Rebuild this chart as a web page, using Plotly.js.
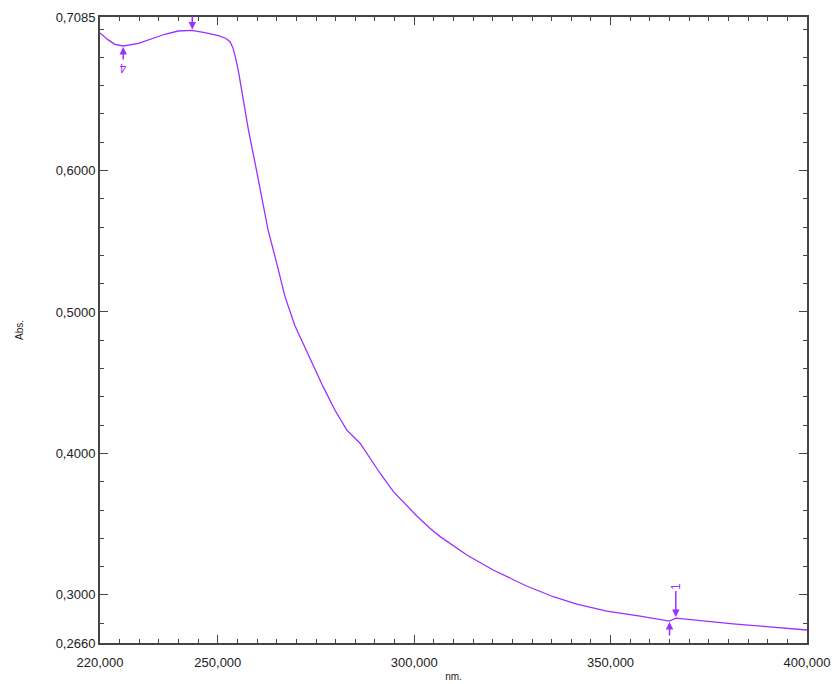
<!DOCTYPE html>
<html>
<head>
<meta charset="utf-8">
<script src="https://cdn.plot.ly/plotly-3.0.1.min.js"></script>
<style>html,body{margin:0;padding:0;background:#fff;}#chart{width:834px;height:684px;}</style>
</head>
<body>
<div id="chart"></div>
<script>
const wavelength = [220.0, 222.0, 223.8, 225.9, 229.8, 233.2, 236.5, 239.9, 243.3, 246.7, 250.1, 252.0, 253.1, 253.8, 254.4, 255.2, 256.5, 257.8, 259.5, 261.2, 262.8, 265.0, 267.1, 269.6, 273.5, 276.8, 279.8, 282.8, 286.2, 288.7, 291.3, 294.7, 298.9, 300.6, 304.0, 306.6, 313.4, 320.1, 328.6, 335.4, 341.4, 349.0, 357.5, 364.3, 365.0, 366.6, 373.6, 381.2, 389.7, 400.0];
const absorbance = [0.6972, 0.6925, 0.6892, 0.6880, 0.6899, 0.6930, 0.6963, 0.6986, 0.6990, 0.6974, 0.6953, 0.6935, 0.6910, 0.6870, 0.6810, 0.6710, 0.6498, 0.6286, 0.6051, 0.5815, 0.5579, 0.5344, 0.5108, 0.4905, 0.4667, 0.4472, 0.4307, 0.4166, 0.4072, 0.3966, 0.3860, 0.3730, 0.3608, 0.3560, 0.3471, 0.3412, 0.3282, 0.3176, 0.3063, 0.2987, 0.2934, 0.2886, 0.2850, 0.2822, 0.2815, 0.2836, 0.2815, 0.2795, 0.2776, 0.2752];

const xTickVals = [220, 250, 300, 350, 400];
const xTickText = ["220,000", "250,000", "300,000", "350,000", "400,000"];
const yTickVals = [0.266, 0.3, 0.4, 0.5, 0.6, 0.7085];
const yTickText = ["0,2660", "0,3000", "0,4000", "0,5000", "0,6000", "0,7085"];

// peak / valley picks
const pickX = [225.9, 243.5, 365.0, 366.6];
const pickY = [0.6880, 0.6990, 0.2815, 0.2836];
const pickLabel = ["4", "", "", "1"];
const pickType = ["valley", "peak", "valley", "peak"];

const lineColor = '#9b30ff';
const axisColor = '#444';
const font = {family: 'Liberation Sans, Arial, sans-serif', size: 13, color: '#222'};

const annotations = pickX.map((x, i) => {
  const isPeak = pickType[i] === 'peak';
  const hasLabel = pickLabel[i] !== '';
  return {
    x: x, y: pickY[i], xref: 'x', yref: 'y',
    text: hasLabel ? pickLabel[i] : '',
    textangle: pickLabel[i] === '4' ? 180 : -90,
    font: {family: font.family, size: 12, color: lineColor},
    showarrow: true, arrowhead: 2, arrowsize: 1, arrowwidth: 1.5,
    arrowcolor: lineColor,
    ax: 0,
    ay: isPeak ? (hasLabel ? -32 : -16) : (hasLabel ? 22 : 16),
    standoff: 1
  };
});

const trace = {
  x: wavelength, y: absorbance, type: 'scatter', mode: 'lines',
  line: {color: lineColor, width: 1.3}, hoverinfo: 'skip'
};

const layout = {
  width: 834, height: 684,
  margin: {l: 100, r: 27, t: 17, b: 41},
  paper_bgcolor: '#fff', plot_bgcolor: '#fff',
  showlegend: false,
  font: font,
  xaxis: {
    range: [220, 400], tickmode: 'array', tickvals: xTickVals, ticktext: xTickText,
    ticks: 'inside', ticklen: 8, tickwidth: 1, tickcolor: axisColor,
    showline: true, linecolor: axisColor, linewidth: 2, mirror: 'ticks',
    showgrid: false, zeroline: false,
    minor: {tickmode: 'linear', tick0: 0, dtick: 5, ticks: 'inside', ticklen: 4, tickcolor: axisColor, showgrid: false},
    tickfont: font, ticklabelstandoff: 6,
    title: {text: 'nm.', font: {family: font.family, size: 10, color: '#222'}, standoff: 4},
    automargin: false
  },
  yaxis: {
    range: [0.266, 0.7085], tickmode: 'array', tickvals: yTickVals, ticktext: yTickText,
    ticks: 'inside', ticklen: 8, tickwidth: 1, tickcolor: axisColor,
    showline: true, linecolor: axisColor, linewidth: 2, mirror: 'ticks',
    showgrid: false, zeroline: false,
    minor: {tickmode: 'linear', tick0: 0, dtick: 0.02, ticks: 'inside', ticklen: 4, tickcolor: axisColor, showgrid: false},
    tickfont: font,
    title: {text: 'Abs.', font: {family: font.family, size: 10, color: '#222'}, standoff: 30},
    automargin: false
  },
  annotations: annotations
};

Plotly.newPlot('chart', [trace], layout, {staticPlot: true, displayModeBar: false});
</script>
</body>
</html>
